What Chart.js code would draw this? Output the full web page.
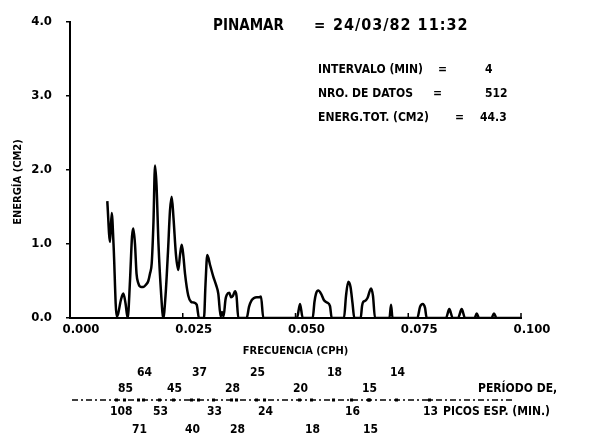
<!DOCTYPE html>
<html>
<head>
<meta charset="utf-8">
<script src="https://cdn.jsdelivr.net/npm/chart.js@4.4.1/dist/chart.umd.min.js"></script>
<style>
  html, body { margin: 0; padding: 0; background: #fff; }
  canvas { display: block; }
</style>
</head>
<body>
<canvas id="spectrum" width="592" height="437"></canvas>
<script>
// spectrum: frequency and energy (cm2)
const freq = [
  0.00827, 0.00887, 0.00925, 0.00965, 0.01035, 0.01064, 0.01131, 0.01182, 0.01231, 0.01279,
  0.01330, 0.01375, 0.01404, 0.01441, 0.01475, 0.01514, 0.01574, 0.01625, 0.01685, 0.01736,
  0.01774, 0.01812, 0.01851, 0.01885, 0.01918, 0.01962, 0.02018, 0.02069, 0.02118, 0.02173,
  0.02217, 0.02255, 0.02295, 0.02350, 0.02401, 0.02439, 0.02477, 0.02512, 0.02550, 0.02623,
  0.02683, 0.02734, 0.02809, 0.02860, 0.02971, 0.03004, 0.03044, 0.03104, 0.03177, 0.03237,
  0.03288, 0.03341, 0.03370, 0.03404, 0.03448, 0.03475, 0.03532, 0.03570, 0.03614, 0.03659,
  0.03692, 0.03732, 0.03918, 0.03969, 0.04029, 0.04080, 0.04140, 0.04191, 0.04235, 0.04286,
  0.05033, 0.05100, 0.05160, 0.05381, 0.05421, 0.05455, 0.05506, 0.05565, 0.05632, 0.05698,
  0.05765, 0.05803, 0.06075, 0.06120, 0.06171, 0.06220, 0.06264, 0.06304, 0.06446, 0.06475,
  0.06503, 0.06541, 0.06596, 0.06674, 0.06718, 0.06763, 0.07084, 0.07118, 0.07151, 0.07701,
  0.07761, 0.07820, 0.07871, 0.07909, 0.08337, 0.08410, 0.08486, 0.08603, 0.08685, 0.08758,
  0.08969, 0.09018, 0.09069, 0.09346, 0.09401, 0.09457, 0.10000
];
const energy = [
  1.58, 1.03, 1.42, 1.00, 0.02, 0.05, 0.25, 0.33, 0.20, 0.00,
  0.50, 1.10, 1.21, 1.00, 0.60, 0.47, 0.42, 0.42, 0.45, 0.50,
  0.60, 0.74, 1.30, 2.06, 1.80, 1.00, 0.35, 0.00, 0.30, 0.90,
  1.45, 1.64, 1.35, 0.85, 0.65, 0.85, 0.99, 0.85, 0.60, 0.30,
  0.22, 0.21, 0.18, 0.00, 0.00, 0.45, 0.85, 0.72, 0.56, 0.45,
  0.33, 0.02, 0.08, 0.02, 0.25, 0.31, 0.34, 0.28, 0.30, 0.36,
  0.30, 0.00, 0.00, 0.15, 0.24, 0.27, 0.28, 0.28, 0.29, 0.00,
  0.00, 0.19, 0.00, 0.00, 0.22, 0.33, 0.37, 0.33, 0.24, 0.21,
  0.16, 0.00, 0.00, 0.30, 0.49, 0.42, 0.20, 0.00, 0.00, 0.16,
  0.22, 0.23, 0.27, 0.40, 0.30, 0.00, 0.00, 0.18, 0.00, 0.00,
  0.15, 0.19, 0.14, 0.00, 0.00, 0.12, 0.00, 0.00, 0.12, 0.00,
  0.00, 0.06, 0.00, 0.00, 0.06, 0.00, 0.00
];

// spectral peaks marked on the period strip (low to high frequency)
const peakFreq = [
  0.00887, 0.01064, 0.01375, 0.01486, 0.01840, 0.02151, 0.02550, 0.02705, 0.03038, 0.03437,
  0.03548, 0.03991, 0.04169, 0.04945, 0.05211, 0.05699, 0.06098, 0.06475, 0.06497, 0.07095,
  0.07827
];
const peakPeriod = [
  '108', '85', '71', '64', '53', '45', '40', '37', '33', '28',
  '28', '25', '24', '20', '18', '18', '16', '15', '15', '14',
  '13'
];

const station = 'PINAMAR';
const stamp = '24/03/82 11:32';
const infoLabels = ['INTERVALO (MIN)', 'NRO. DE DATOS', 'ENERG.TOT. (CM2)'];
const infoValues = ['4', '512', '44.3'];

const FONT = "'DejaVu Sans Condensed', 'Liberation Sans Narrow', 'DejaVu Sans', sans-serif";
const font = size => 'bold ' + size + 'px ' + FONT;

Chart.defaults.font.family = FONT;
Chart.defaults.font.weight = 'bold';
Chart.defaults.color = '#000';

// text block, y title and period strip
const annotations = {
  id: 'annotations',
  afterDraw(chart) {
    const ctx = chart.ctx;
    const xs = chart.scales.x;
    const area = chart.chartArea;
    ctx.save();
    ctx.fillStyle = '#000';
    ctx.strokeStyle = '#000';
    ctx.textBaseline = 'middle';

    // short upward ticks on the frequency axis
    ctx.lineWidth = 1.5;
    xs.ticks.forEach(t => {
      const px = xs.getPixelForValue(t.value);
      ctx.beginPath();
      ctx.moveTo(px, area.bottom);
      ctx.lineTo(px, area.bottom - 5);
      ctx.stroke();
    });

    ctx.save();
    ctx.translate(18, 182);
    ctx.rotate(-Math.PI / 2);
    ctx.textAlign = 'center';
    ctx.font = font(11);
    ctx.fillText('ENERGÍA (CM2)', 0, 0);
    ctx.restore();

    ctx.textAlign = 'left';
    ctx.font = font(15);
    ctx.fillText(station, 213, 26);
    ctx.fillText('=', 314, 26);
    ctx.font = font(16);
    ctx.letterSpacing = '1px';
    ctx.fillText(stamp, 333, 26);
    ctx.letterSpacing = '0px';

    ctx.font = font(12);
    const eqX = [438, 433, 455];
    infoLabels.forEach((lab, i) => {
      const y = 70 + i * 24;
      ctx.fillText(lab, 318, y);
      ctx.fillText('=', eqX[i], y);
      ctx.fillText(infoValues[i], i === 2 ? 480 : 485, y);
    });

    // period strip under the axis
    const lineY = 400;
    ctx.lineWidth = 1.5;
    ctx.setLineDash([6, 3, 2, 3]);
    ctx.beginPath();
    ctx.moveTo(xs.left + 2, lineY);
    ctx.lineTo(512, lineY);
    ctx.stroke();
    ctx.setLineDash([]);

    const rowY = [373, 389, 412, 430];
    const rowOf = [2, 1, 3, 0];
    ctx.font = font(12);
    peakFreq.forEach((f, i) => {
      const px = xs.getPixelForValue(f);
      ctx.fillRect(px + 5, lineY - 1.5, 3, 3);
      ctx.fillText(peakPeriod[i], px, rowY[rowOf[i % 4]]);
    });
    ctx.fillText('PERÍODO DE,', 478, 389);
    ctx.fillText('PICOS ESP. (MIN.)', 443, 412);
    ctx.restore();
  }
};

new Chart(document.getElementById('spectrum'), {
  type: 'line',
  data: {
    datasets: [{
      data: freq.map((f, i) => ({ x: f, y: energy[i] })),
      borderColor: '#000',
      borderWidth: 2.5,
      pointRadius: 0,
      cubicInterpolationMode: 'monotone',
      fill: false
    }]
  },
  options: {
    responsive: false,
    animation: false,
    layout: { padding: { top: 22, right: 71, left: 0, bottom: 79 } },
    plugins: { legend: { display: false }, tooltip: { enabled: false } },
    scales: {
      x: {
        type: 'linear',
        min: 0,
        max: 0.1,
        ticks: {
          stepSize: 0.025,
          callback: v => v.toFixed(3),
          labelOffset: 11,
          padding: -4,
          maxRotation: 0,
          autoSkip: false,
          font: { size: 13, weight: 'bold' }
        },
        grid: { display: false },
        border: { display: true, color: '#000', width: 2 },
        title: { display: true, text: 'FRECUENCIA (CPH)', padding: 0, font: { size: 11, weight: 'bold' } },
        afterFit: s => { s.height = 40; }
      },
      y: {
        min: 0,
        max: 4,
        ticks: {
          stepSize: 1,
          callback: v => v.toFixed(1),
          padding: 14,
          font: { size: 13, weight: 'bold' }
        },
        grid: { display: true, drawOnChartArea: false, drawTicks: true, tickLength: 4, color: '#000', lineWidth: 1.5 },
        border: { display: true, color: '#000', width: 2 },
        afterFit: s => { s.width = 70; }
      }
    }
  },
  plugins: [annotations]
});
</script>
</body>
</html>
